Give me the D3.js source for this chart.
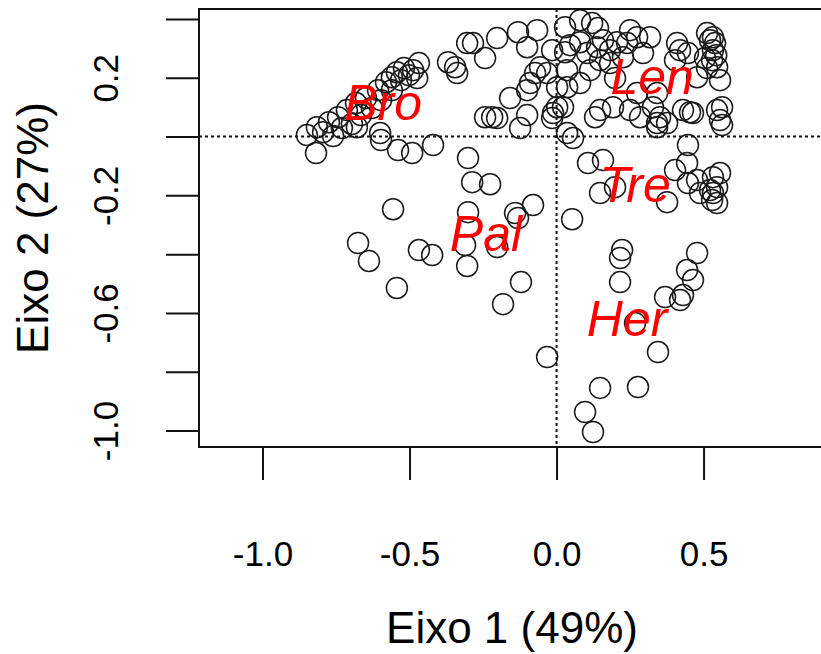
<!DOCTYPE html>
<html>
<head>
<meta charset="utf-8">
<script src="https://cdn.jsdelivr.net/npm/d3@7"></script>
<style>
  body { margin: 0; background: white; }
  text { font-family: "Liberation Sans", Arial, sans-serif; }
</style>
</head>
<body>
<div id="biplot"></div>
<script>
// Scores of the sites on the two ordination axes
const eixo1 = [
  // Bro group
  -0.849, -0.818, -0.815, -0.794, -0.774, -0.760, -0.743, -0.730, -0.713, -0.696,
  -0.682, -0.665, -0.648, -0.628, -0.607, -0.597, -0.580, -0.560, -0.543, -0.529,
  -0.519, -0.502, -0.488, -0.474, -0.468, -0.600, -0.597, -0.539, -0.491, -0.420,
  -0.560, -0.679,
  // upper middle
  -0.369, -0.345, -0.338, -0.304, -0.284, -0.243, -0.202, -0.131, -0.066, -0.100,
  -0.015, 0.029, 0.029, -0.056, -0.073, -0.032, -0.090, 0.002, -0.158, -0.100,
  -0.243, -0.219, -0.202, -0.124, -0.100, -0.015, 0.002, 0.036, -0.301,
  // Pal group
  -0.287, -0.226, -0.556, -0.301, -0.141, -0.131, -0.080, -0.675, -0.638, -0.468,
  -0.423, -0.311, -0.304, -0.202, -0.543, -0.121, -0.182, -0.032,
  // near the origin
  0.053, 0.056, 0.107, 0.158, 0.148, 0.199,
  // Len group
  0.080, 0.121, 0.141, 0.046, 0.080, 0.104, 0.138, 0.158, 0.182, 0.206,
  0.182, 0.148, 0.036, 0.080, 0.036, 0.022, 0.250, 0.274, 0.318, 0.240,
  0.226, 0.294, 0.410, 0.420, 0.447, 0.403, 0.512, 0.532, 0.539, 0.532,
  0.529, 0.546, 0.512, 0.556, 0.478, 0.522, 0.543, 0.505, 0.148, 0.131,
  0.192, 0.250, 0.284, 0.328, 0.352, 0.376, 0.430, 0.464, 0.546, 0.556,
  0.274, 0.342, 0.563, 0.563, 0.454, 0.342, -0.012, 0.199, 0.114,
  // Tre group
  0.342, 0.447, 0.376, 0.403, 0.444, 0.447, 0.478, 0.488, 0.532, 0.556,
  0.546, 0.532, 0.529, 0.546, 0.522,
  // Her group
  0.223, 0.216, 0.216, 0.478, 0.444, 0.464, 0.430, 0.369, 0.420, 0.267,
  0.345, 0.148, 0.277, 0.097, 0.124
];

const eixo2 = [
  // Bro group
  0.005, -0.056, 0.032, 0.015, 0.049, 0.002, 0.066, 0.029, 0.090, 0.043,
  0.114, 0.073, 0.131, 0.097, 0.158, 0.124, 0.185, 0.202, 0.219, 0.192,
  0.233, 0.209, 0.226, 0.199, 0.250, 0.012, -0.012, -0.046, -0.056, -0.029,
  0.158, 0.032,
  // upper middle
  0.253, 0.236, 0.216, 0.318, 0.318, 0.267, 0.335, 0.355, 0.362, 0.304,
  0.294, 0.372, 0.287, 0.236, 0.216, 0.216, 0.182, 0.168, 0.131, 0.158,
  0.066, 0.066, 0.063, 0.029, 0.073, 0.063, 0.100, 0.012, -0.073,
  // Pal group
  -0.155, -0.162, -0.247, -0.257, -0.260, -0.277, -0.233, -0.362, -0.423, -0.386,
  -0.403, -0.369, -0.440, -0.376, -0.515, -0.495, -0.570, -0.750,
  // near the origin
  -0.281, -0.005, -0.090, -0.080, -0.192, -0.172,
  // Len group
  0.396, 0.386, 0.369, 0.311, 0.321, 0.284, 0.304, 0.328, 0.294, 0.321,
  0.250, 0.260, 0.226, 0.182, 0.168, 0.100, 0.362, 0.338, 0.338, 0.318,
  0.270, 0.284, 0.318, 0.294, 0.284, 0.260, 0.352, 0.338, 0.318, 0.294,
  0.260, 0.236, 0.233, 0.192, 0.202, 0.328, 0.277, 0.267, 0.090, 0.066,
  0.100, 0.090, 0.066, 0.100, 0.066, 0.046, 0.090, 0.080, 0.090, 0.056,
  0.148, 0.148, 0.100, 0.039, 0.083, 0.046, 0.080, 0.199, 0.226,
  // Tre group
  0.032, -0.029, -0.223, -0.114, -0.090, -0.158, -0.148, -0.192, -0.138, -0.124,
  -0.172, -0.192, -0.216, -0.226, -0.182,
  // Her group
  -0.386, -0.413, -0.495, -0.396, -0.454, -0.488, -0.539, -0.546, -0.556, -0.634,
  -0.733, -0.855, -0.852, -0.937, -1.005
];

// Group names written in red
const grupos = ["Bro", "Len", "Tre", "Pal", "Her"];
const grupoX = [-0.590, 0.325, 0.267, -0.240, 0.240];
const grupoY = [0.119, 0.207, -0.160, -0.327, -0.616];

// Axis ticks (R leaves some labels out where they would overlap)
const xTicks = [-1.0, -0.5, 0.0, 0.5];
const yTicks = [0.4, 0.2, 0.0, -0.2, -0.4, -0.6, -0.8, -1.0];
const yLabels = [0.2, -0.2, -0.6, -1.0];

let width = 821, height = 654;

// the plot region runs a little past the right edge of the picture
let plot = { left: 199, right: 835, top: 9, bottom: 447 };

let svg = d3.select("#biplot")
    .append("svg")
    .attr("width", width)
    .attr("height", height)
    .style("background", "white");

// Scales (same units on both axes)
let x = d3.scaleLinear()
    .domain([-1.216, 0.947])
    .range([plot.left, plot.right]);

let y = d3.scaleLinear()
    .domain([-1.056, 0.434])
    .range([plot.bottom, plot.top]);

// Dotted reference lines through the origin
svg.append("line")
    .attr("x1", plot.left).attr("x2", plot.right)
    .attr("y1", y(0)).attr("y2", y(0))
    .attr("stroke", "#111")
    .attr("stroke-width", 2)
    .attr("stroke-dasharray", "3,3");

svg.append("line")
    .attr("x1", x(0)).attr("x2", x(0))
    .attr("y1", plot.top).attr("y2", plot.bottom)
    .attr("stroke", "#111")
    .attr("stroke-width", 2)
    .attr("stroke-dasharray", "3,3");

// Points as open circles
svg.selectAll("circle.site")
    .data(d3.range(eixo1.length))
    .enter()
    .append("circle")
    .attr("class", "site")
    .attr("cx", i => x(eixo1[i]))
    .attr("cy", i => y(eixo2[i]))
    .attr("r", 10.5)
    .attr("fill", "none")
    .attr("stroke", "#1a1a1a")
    .attr("stroke-width", 1.5);

// Group labels
svg.selectAll("text.grupo")
    .data(grupos)
    .enter()
    .append("text")
    .attr("class", "grupo")
    .attr("x", (d, i) => x(grupoX[i]))
    .attr("y", (d, i) => y(grupoY[i]))
    .attr("dy", "0.36em")
    .attr("text-anchor", "middle")
    .style("font-size", "50px")
    .style("font-style", "italic")
    .attr("fill", "#ff0000")
    .text(d => d);

// Plot box
svg.append("rect")
    .attr("x", plot.left)
    .attr("y", plot.top)
    .attr("width", plot.right - plot.left)
    .attr("height", plot.bottom - plot.top)
    .attr("fill", "none")
    .attr("stroke", "#111")
    .attr("stroke-width", 2);

// x axis
let xAxis = svg.append("g")
    .attr("transform", `translate(0,${plot.bottom})`)
    .call(d3.axisBottom(x)
        .tickValues(xTicks)
        .tickSize(33)
        .tickFormat(d => d.toFixed(1)));

xAxis.select(".domain").remove();
xAxis.selectAll("line").attr("stroke", "#111").attr("stroke-width", 2);
xAxis.selectAll("text")
    .attr("y", 119)
    .attr("dy", null)
    .attr("fill", "#000")
    .style("font-size", "35px");

// y axis, labels turned like in R
let yAxis = svg.append("g")
    .attr("transform", `translate(${plot.left},0)`)
    .call(d3.axisLeft(y)
        .tickValues(yTicks)
        .tickSize(33)
        .tickFormat(d => yLabels.includes(d) ? d.toFixed(1) : ""));

yAxis.select(".domain").remove();
yAxis.selectAll("line").attr("stroke", "#111").attr("stroke-width", 2);
yAxis.selectAll("text")
    .attr("transform", "rotate(-90)")
    .attr("x", 0)
    .attr("y", -81)
    .attr("dy", null)
    .attr("text-anchor", "middle")
    .attr("fill", "#000")
    .style("font-size", "35px");

// Axis titles
svg.append("text")
    .attr("x", 512)
    .attr("y", 643)
    .attr("text-anchor", "middle")
    .style("font-size", "44px")
    .text("Eixo 1 (49%)");

svg.append("text")
    .attr("transform", "rotate(-90)")
    .attr("x", -(plot.top + plot.bottom) / 2)
    .attr("y", 48)
    .attr("text-anchor", "middle")
    .style("font-size", "44px")
    .text("Eixo 2 (27%)");
</script>
</body>
</html>
